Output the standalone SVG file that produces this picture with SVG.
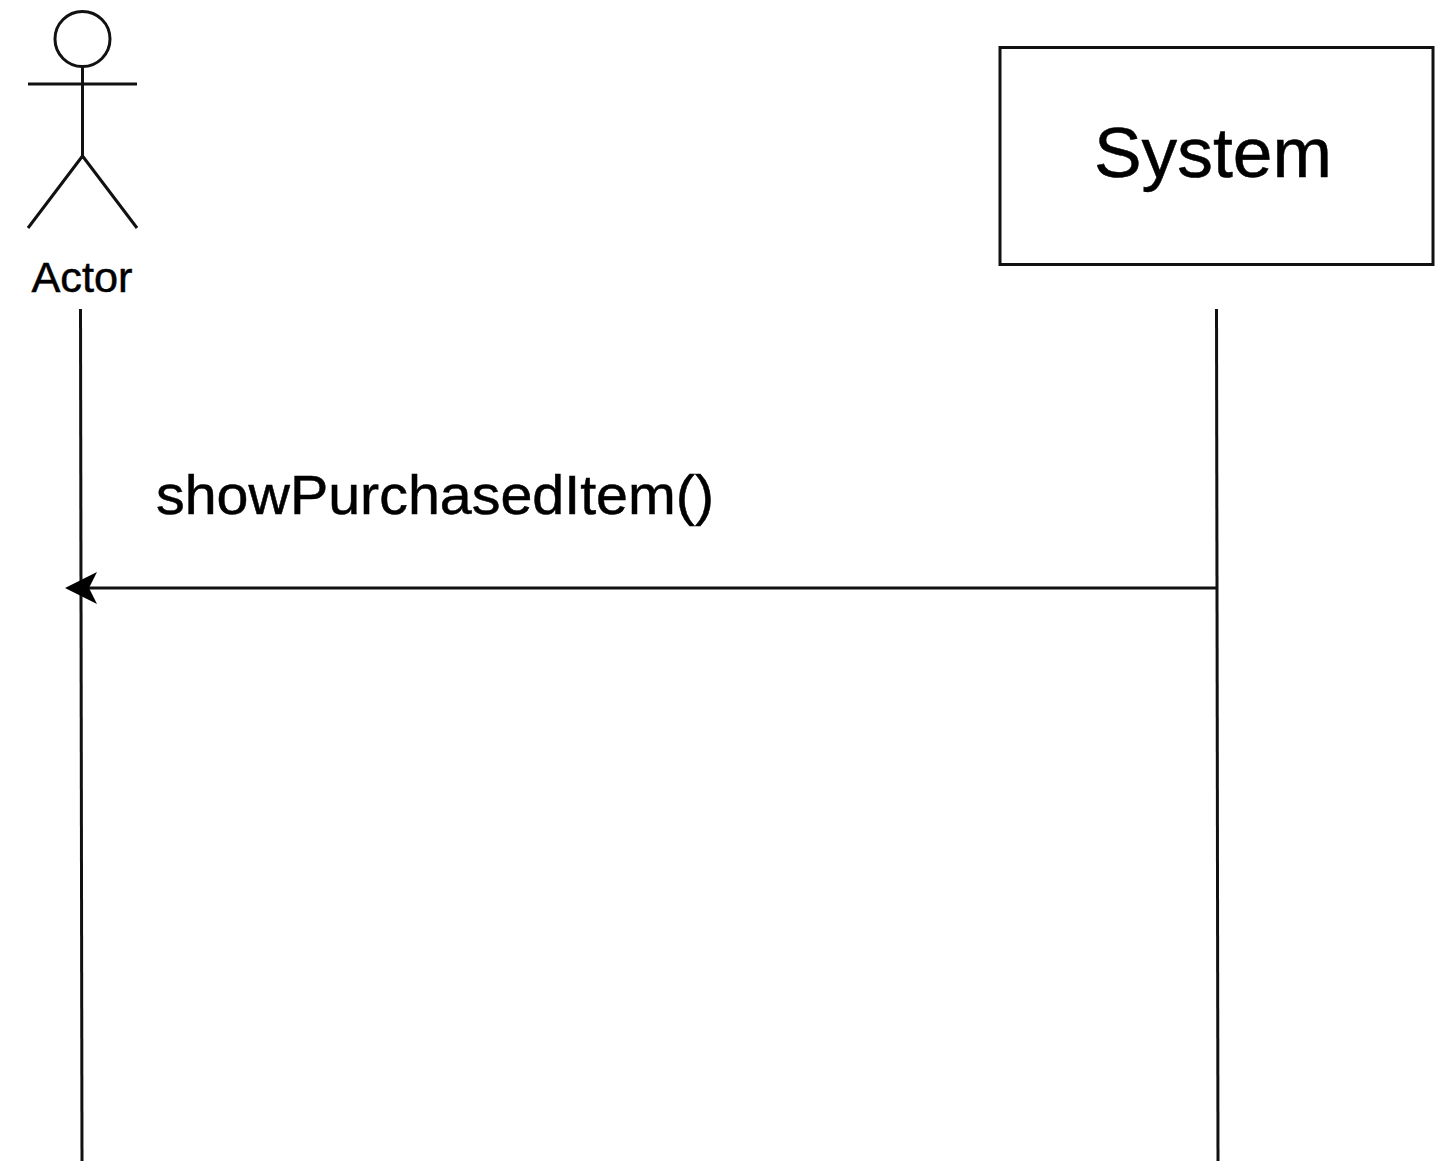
<svg xmlns="http://www.w3.org/2000/svg" width="1441" height="1161" viewBox="0 0 1441 1161">
<style>
.s{fill:none;stroke:#111;stroke-width:3}
.l{fill:none;stroke:#111;stroke-width:3}
text{font-family:"Liberation Sans",Arial,sans-serif;fill:#000;stroke:#000;stroke-width:.5}
</style>
<defs><marker id="a" markerUnits="userSpaceOnUse" markerWidth="34" markerHeight="34" refX="8" refY="16" orient="auto"><path d="M32 16L0 0L8 16L0 32Z" fill="#000"/></marker></defs>
<rect width="1441" height="1161" fill="#fff"/>
<g id="actor">
<circle class="s" cx="82.500" cy="39" r="27.500"/>
<path class="s" d="M82.500 67V156M28 84H137M82.500 156L28 228M82.500 156L137 228"/>
<text x="82" y="292" font-size="42" text-anchor="middle" textLength="101" lengthAdjust="spacingAndGlyphs">Actor</text>
</g>
<g id="system">
<rect class="s" x="1000" y="47.500" width="433" height="217"/>
<text x="1213" y="177" font-size="70" text-anchor="middle" textLength="238" lengthAdjust="spacingAndGlyphs">System</text>
</g>
<g id="connectors">
<path class="l" d="M80.500 309L82 1161"/>
<path class="l" d="M1216.500 309L1218 1161"/>
<path class="l" d="M1216 588H89" marker-end="url(#a)"/>
</g>
<text id="message" x="156" y="514" font-size="56" textLength="558" lengthAdjust="spacingAndGlyphs">showPurchasedItem()</text>
</svg>
